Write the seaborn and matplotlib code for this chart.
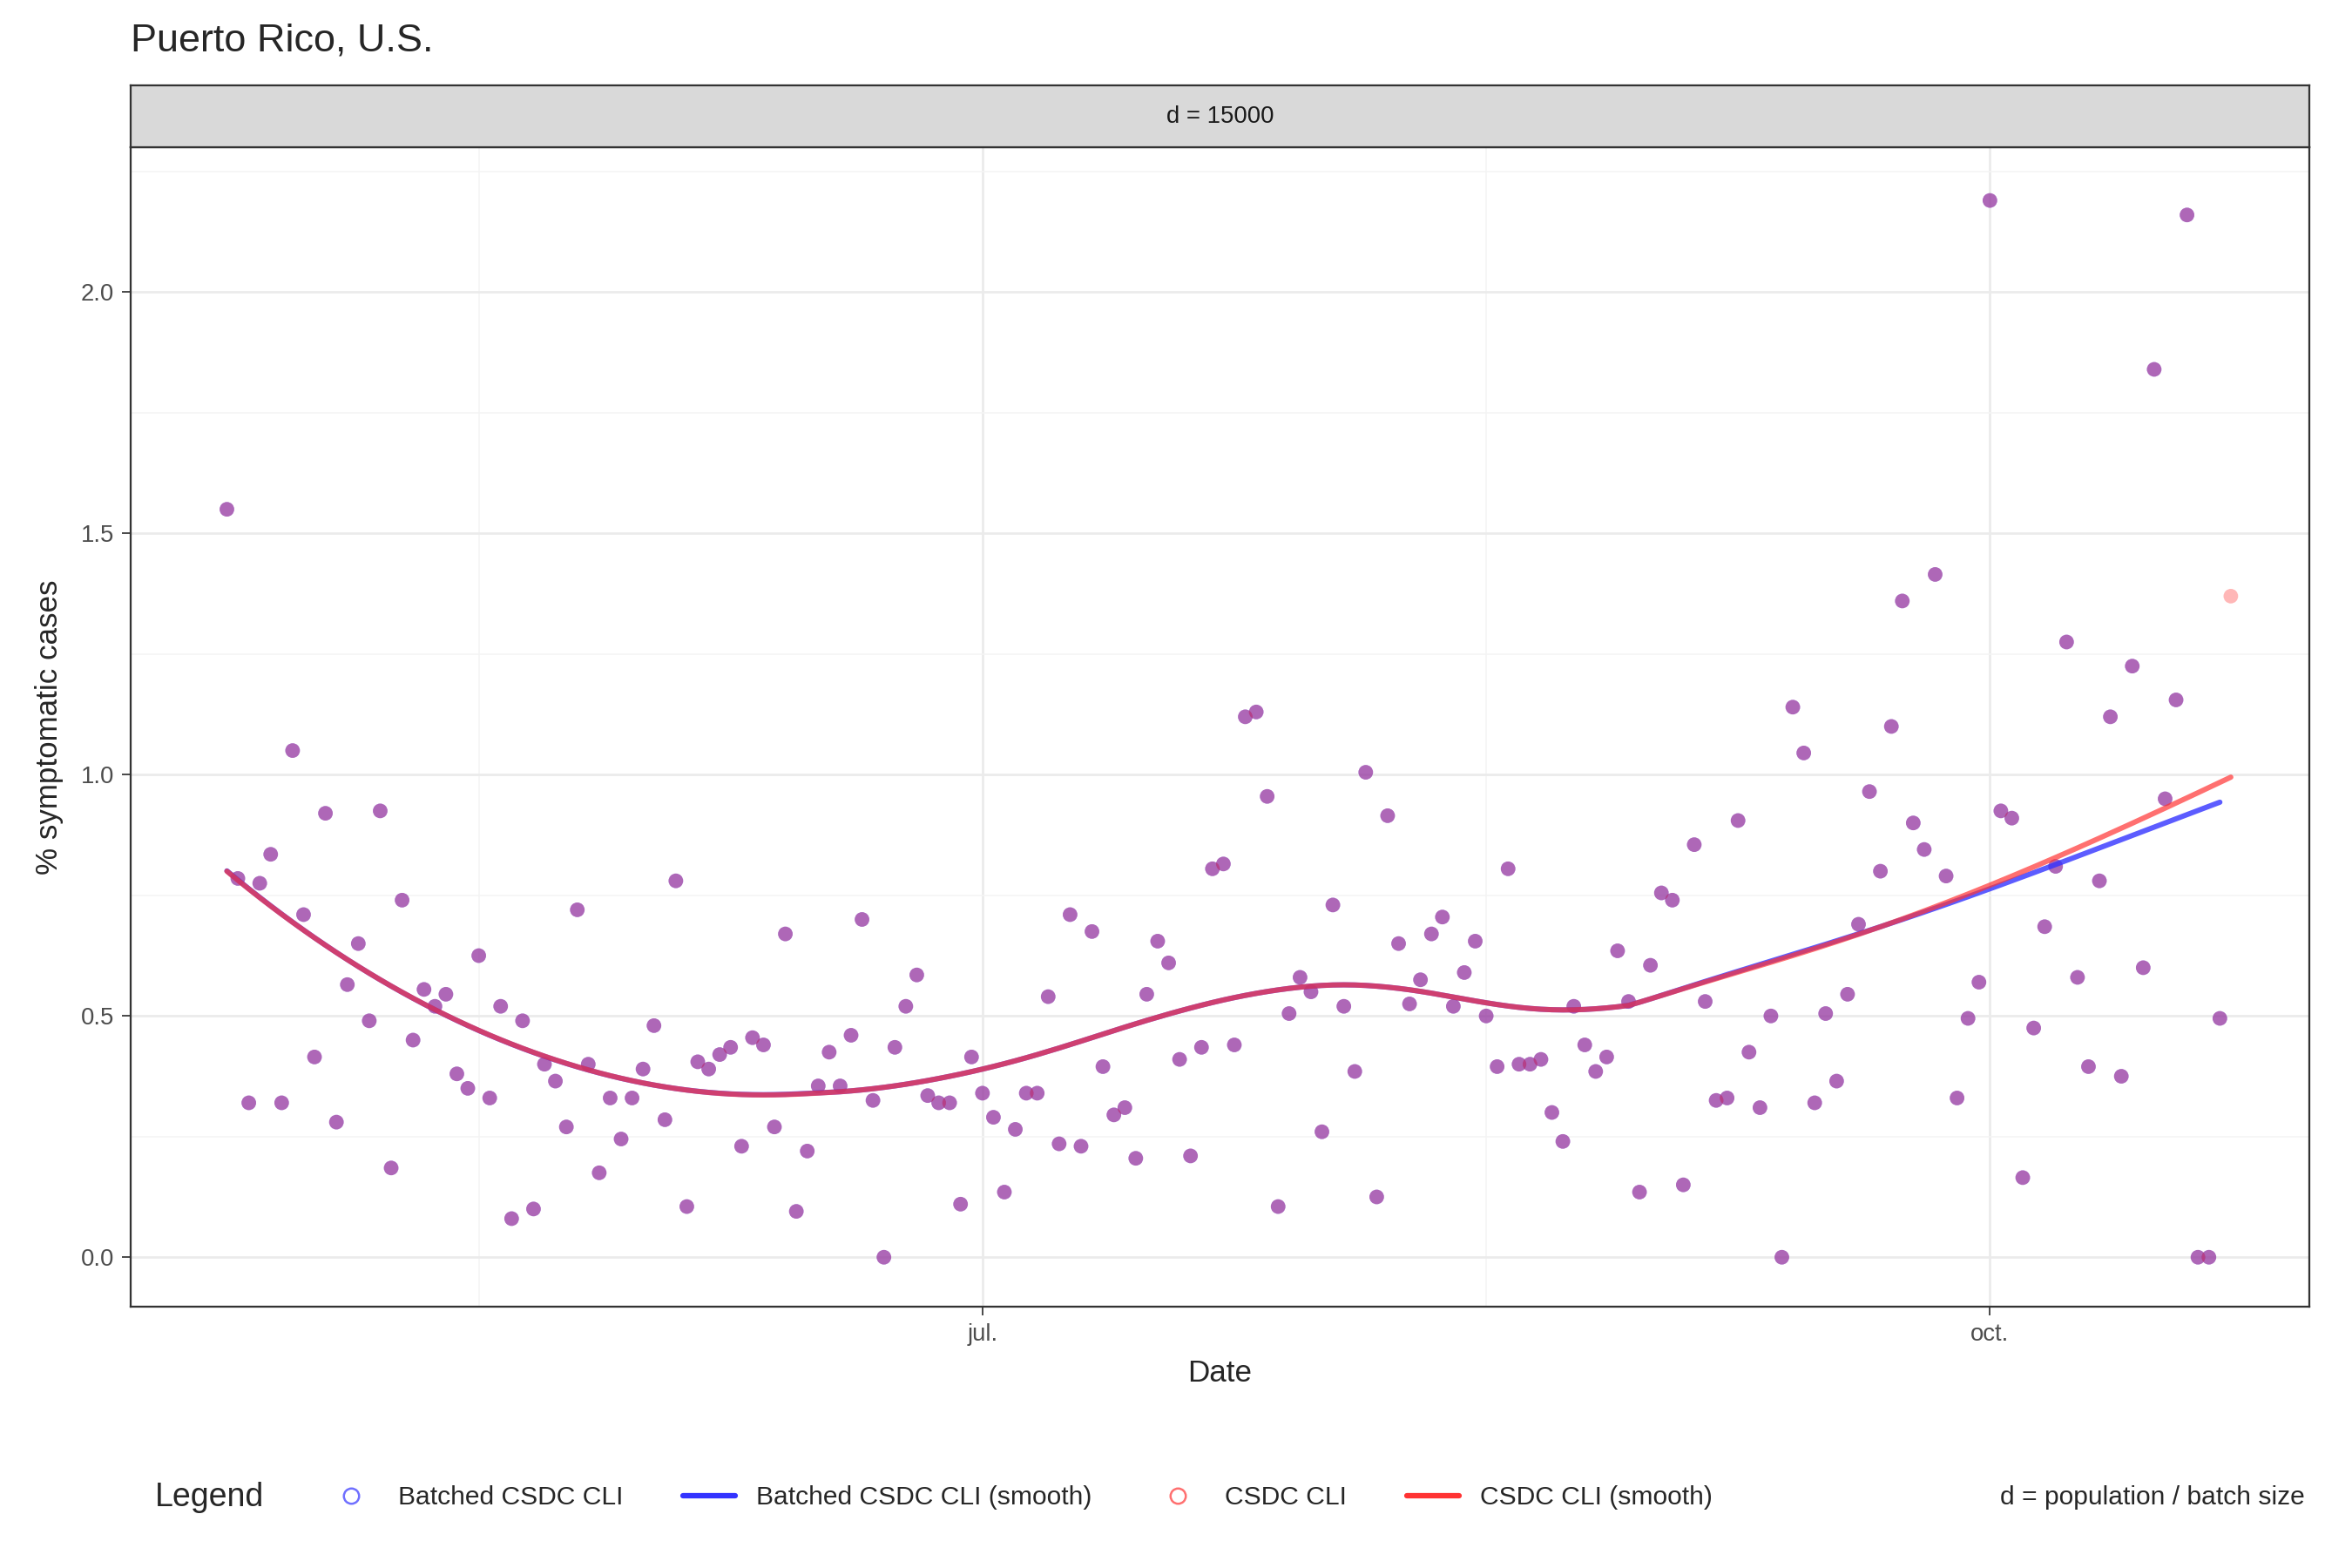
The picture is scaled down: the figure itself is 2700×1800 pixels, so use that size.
import numpy as np
import pandas as pd
import matplotlib
matplotlib.use("Agg")
import matplotlib.pyplot as plt
import matplotlib.dates as mdates
from matplotlib.lines import Line2D
import seaborn as sns

start_date = "2020-04-23"
csdc_cli = [
    1.55, 0.785, 0.32, 0.775, 0.835, 0.32, 1.05, 0.71, 0.415, 0.92, 0.28, 0.565, 0.65, 0.49, 0.925,
    0.185, 0.74, 0.45, 0.555, 0.52, 0.545, 0.38, 0.35, 0.625, 0.33, 0.52, 0.08, 0.49, 0.10, 0.40,
    0.365, 0.27, 0.72, 0.40, 0.175, 0.33, 0.245, 0.33, 0.39, 0.48, 0.285, 0.78, 0.105, 0.405, 0.39,
    0.42, 0.435, 0.23, 0.455, 0.44, 0.27, 0.67, 0.095, 0.22, 0.355, 0.425, 0.355, 0.46, 0.70, 0.325,
    0.0, 0.435, 0.52, 0.585, 0.335, 0.32, 0.32, 0.11, 0.415, 0.34, 0.29, 0.135, 0.265, 0.34, 0.34,
    0.54, 0.235, 0.71, 0.23, 0.675, 0.395, 0.295, 0.31, 0.205, 0.545, 0.655, 0.61, 0.41, 0.21, 0.435,
    0.805, 0.815, 0.44, 1.12, 1.13, 0.955, 0.105, 0.505, 0.58, 0.55, 0.26, 0.73, 0.52, 0.385, 1.005,
    0.125, 0.915, 0.65, 0.525, 0.575, 0.67, 0.705, 0.52, 0.59, 0.655, 0.50, 0.395, 0.805, 0.40, 0.40,
    0.41, 0.30, 0.24, 0.52, 0.44, 0.385, 0.415, 0.635, 0.53, 0.135, 0.605, 0.755, 0.74, 0.15, 0.855,
    0.53, 0.325, 0.33, 0.905, 0.425, 0.31, 0.50, 0.0, 1.14, 1.045, 0.32, 0.505, 0.365, 0.545, 0.69,
    0.965, 0.80, 1.10, 1.36, 0.90, 0.845, 1.415, 0.79, 0.33, 0.495, 0.57, 2.19, 0.925, 0.91, 0.165,
    0.475, 0.685, 0.81, 1.275, 0.58, 0.395, 0.78, 1.12, 0.375, 1.225, 0.60, 1.84, 0.95, 1.155, 2.16,
    0.0, 0.0, 0.495, 1.37,
]
# batched series matches except the last day is missing
batched_cli = csdc_cli[:-1] + [np.nan]

dates = pd.date_range(start_date, periods=len(csdc_cli), freq="D")
df = pd.DataFrame({"Date": dates, "csdc": csdc_cli, "batched": batched_cli})


def loess(x, y, span=0.6):
    x = np.asarray(x, float)
    y = np.asarray(y, float)
    ok = ~np.isnan(y)
    x, y = x[ok], y[ok]
    k = int(np.ceil(span * len(x)))
    out = np.empty_like(x)
    for i, x0 in enumerate(x):
        d = np.abs(x - x0)
        h = np.sort(d)[k - 1]
        w = np.clip(1 - (d / h) ** 3, 0, None) ** 3
        X = np.vstack([np.ones_like(x), x - x0, (x - x0) ** 2]).T
        W = np.sqrt(w)
        beta = np.linalg.lstsq(X * W[:, None], y * W, rcond=None)[0]
        out[i] = beta[0]
    return ok, out


xnum = mdates.date2num(df["Date"])
ok_b, smooth_b = loess(xnum, df["batched"])
ok_c, smooth_c = loess(xnum, df["csdc"])

sns.set_theme(style="whitegrid")
plt.rcParams["font.family"] = ["Liberation Sans", "DejaVu Sans"]

fig = plt.figure(figsize=(15, 10), dpi=180)
ax = fig.add_axes([0.0555, 0.1665, 0.9265, 0.7395])

sns.scatterplot(data=df, x="Date", y="batched", color="#3333ff", alpha=0.6, s=45,
                edgecolor="none", ax=ax, zorder=3)
sns.scatterplot(data=df, x="Date", y="csdc", color="#ff3333", alpha=0.35, s=45,
                edgecolor="none", ax=ax, zorder=3)
sns.lineplot(x=df["Date"][ok_b], y=smooth_b, color="#3333ff", alpha=0.8, lw=2.4, ax=ax, zorder=4)
sns.lineplot(x=df["Date"][ok_c], y=smooth_c, color="#ff3333", alpha=0.7, lw=2.4, ax=ax, zorder=4)

ax.set_xticks(mdates.datestr2num(["2020-07-01", "2020-10-01"]))
ax.set_xticklabels(["jul.", "oct."])
ax.set_xticks(mdates.datestr2num(["2020-05-16", "2020-08-16"]), minor=True)
ax.set_yticks([0, 0.5, 1.0, 1.5, 2.0])
ax.set_yticklabels(["0.0", "0.5", "1.0", "1.5", "2.0"])
ax.set_yticks([0.25, 0.75, 1.25, 1.75, 2.25], minor=True)
ax.set_xlim(mdates.datestr2num("2020-07-01") - 77.8, mdates.datestr2num("2020-07-01") + 121.2)
ax.set_ylim(-0.103, 2.3)
ax.grid(which="major", color="#ebebeb", lw=1.1)
ax.grid(which="minor", color="#f4f4f4", lw=0.6)
for s in ax.spines.values():
    s.set_color("#333333")
    s.set_linewidth(0.9)
ax.tick_params(axis="both", which="major", labelsize=11, colors="#4d4d4d", length=4,
               direction="out", left=True, bottom=True, width=0.8)
ax.tick_params(which="minor", length=0)
ax.set_xlabel("Date", fontsize=14, labelpad=6)
ax.set_ylabel("% symptomatic cases", fontsize=14, labelpad=8)

# facet strip
strip = fig.add_axes([0.0555, 0.906, 0.9265, 0.0395])
strip.set_facecolor("#d9d9d9")
strip.set_xticks([]); strip.set_yticks([])
for s in strip.spines.values():
    s.set_color("#333333"); s.set_linewidth(0.9)
strip.text(0.5, 0.5, "d = 15000", ha="center", va="center", fontsize=11, color="#1a1a1a",
           transform=strip.transAxes)

fig.text(0.0555, 0.974, "Puerto Rico, U.S.", fontsize=18, va="center", ha="left")

handles = [
    Line2D([], [], marker="o", ls="none", mfc="none", mec="#3333ff", ms=7, alpha=0.7),
    Line2D([], [], color="#3333ff", lw=2.5),
    Line2D([], [], marker="o", ls="none", mfc="none", mec="#ff3333", ms=7, alpha=0.7),
    Line2D([], [], color="#ff3333", lw=2.5),
]
labels = ["Batched CSDC CLI", "Batched CSDC CLI (smooth)", "CSDC CLI", "CSDC CLI (smooth)"]
fig.legend(handles, labels, loc="center left", bbox_to_anchor=(0.128, 0.045), ncol=4,
           frameon=False, fontsize=12, handlelength=2, columnspacing=2.3)
fig.text(0.066, 0.045, "Legend", fontsize=15, va="center")
fig.text(0.98, 0.045, "d = population / batch size", fontsize=12, va="center", ha="right")

fig.savefig("out.png", dpi=180)
